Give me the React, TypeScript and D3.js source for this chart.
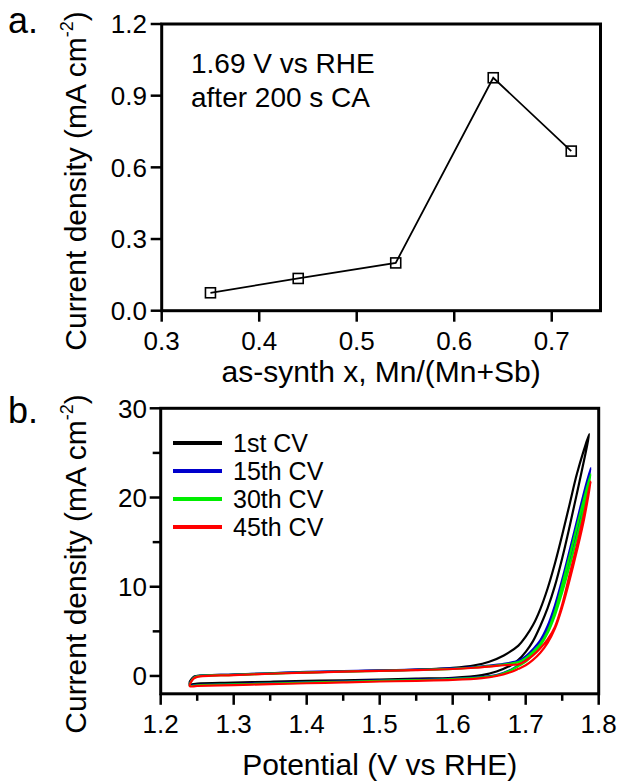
import React from "react";
import * as d3 from "d3";

// ---------- Panel a data ----------
const compX = [0.35, 0.44, 0.54, 0.64, 0.72];
const currentA = [0.075, 0.135, 0.2, 0.975, 0.668];
const aXTicks = [0.3, 0.4, 0.5, 0.6, 0.7];
const aYTicks = [0.0, 0.3, 0.6, 0.9, 1.2];
const annotation = ["1.69 V vs RHE", "after 200 s CA"];

// ---------- Panel b data (CV loops: [potential V, current mA cm-2]) ----------
const cv1Forward = [[1.24,-0.6],[1.245,-0.1],[1.25,0.0],[1.3,0.15],[1.35,0.28],[1.4,0.4],[1.45,0.5],[1.5,0.6],[1.55,0.72],[1.6,0.92],[1.63,1.2],[1.65,1.6],[1.67,2.3],[1.69,3.4],[1.70,4.4],[1.71,5.7],[1.72,7.5],[1.73,9.8],[1.74,12.6],[1.75,15.8],[1.76,19.2],[1.77,22.6],[1.78,25.4],[1.787,27.1]];
const cv1Reverse = [[1.787,27.1],[1.78,24.2],[1.77,20.4],[1.76,16.7],[1.75,13.2],[1.74,10.1],[1.73,7.6],[1.72,5.6],[1.71,3.9],[1.70,2.7],[1.69,1.8],[1.68,1.2],[1.66,0.5],[1.64,0.1],[1.6,-0.2],[1.55,-0.3],[1.5,-0.4],[1.45,-0.48],[1.4,-0.55],[1.35,-0.65],[1.3,-0.75],[1.25,-0.85],[1.24,-0.9],[1.24,-0.6]];

const cv15Forward = [[1.24,-0.8],[1.245,-0.2],[1.25,0.0],[1.3,0.15],[1.35,0.3],[1.4,0.45],[1.45,0.55],[1.5,0.62],[1.55,0.7],[1.6,0.85],[1.63,1.0],[1.65,1.15],[1.67,1.35],[1.68,1.5],[1.69,1.7],[1.70,2.2],[1.71,3.0],[1.72,4.0],[1.73,5.6],[1.74,7.9],[1.75,10.8],[1.76,14.0],[1.77,17.3],[1.78,20.6],[1.789,23.3]];
const cv15Reverse = [[1.789,23.3],[1.78,19.6],[1.77,16.2],[1.76,13.0],[1.75,10.0],[1.74,7.3],[1.73,5.1],[1.72,3.6],[1.71,2.6],[1.70,1.8],[1.69,1.2],[1.68,0.7],[1.66,0.1],[1.64,-0.1],[1.6,-0.3],[1.55,-0.42],[1.5,-0.5],[1.45,-0.6],[1.4,-0.7],[1.35,-0.8],[1.3,-0.9],[1.25,-1.0],[1.24,-1.05],[1.24,-0.8]];

const cv30Forward = [[1.24,-0.85],[1.245,-0.25],[1.25,-0.05],[1.3,0.12],[1.35,0.27],[1.4,0.4],[1.45,0.5],[1.5,0.58],[1.55,0.67],[1.6,0.8],[1.63,0.95],[1.65,1.1],[1.67,1.28],[1.68,1.4],[1.69,1.55],[1.70,2.0],[1.71,2.7],[1.72,3.6],[1.73,5.0],[1.74,7.2],[1.75,10.2],[1.76,13.4],[1.77,16.7],[1.78,19.9],[1.789,22.6]];
const cv30Reverse = [[1.789,22.6],[1.78,18.9],[1.77,15.5],[1.76,12.3],[1.75,9.4],[1.74,6.8],[1.73,4.8],[1.72,3.4],[1.71,2.4],[1.70,1.6],[1.69,1.1],[1.68,0.65],[1.66,0.05],[1.64,-0.15],[1.6,-0.35],[1.55,-0.47],[1.5,-0.55],[1.45,-0.65],[1.4,-0.75],[1.35,-0.85],[1.3,-0.95],[1.25,-1.05],[1.24,-1.1],[1.24,-0.85]];

const cv45Forward = [[1.24,-0.9],[1.245,-0.3],[1.25,-0.1],[1.3,0.1],[1.35,0.25],[1.4,0.38],[1.45,0.48],[1.5,0.56],[1.55,0.65],[1.6,0.78],[1.63,0.92],[1.65,1.05],[1.67,1.2],[1.68,1.25],[1.69,1.3],[1.70,1.7],[1.71,2.3],[1.72,3.1],[1.73,4.1],[1.74,5.5],[1.75,8.0],[1.76,11.3],[1.77,14.6],[1.78,18.2],[1.789,21.8]];
const cv45Reverse = [[1.789,21.8],[1.78,17.6],[1.77,14.0],[1.76,10.7],[1.75,7.7],[1.74,5.3],[1.73,3.7],[1.72,2.6],[1.71,1.8],[1.70,1.2],[1.69,0.8],[1.68,0.45],[1.66,0.0],[1.64,-0.25],[1.6,-0.45],[1.55,-0.55],[1.5,-0.62],[1.45,-0.72],[1.4,-0.82],[1.35,-0.92],[1.3,-1.02],[1.25,-1.12],[1.24,-1.15],[1.24,-0.9]];

const cvLabels = ["1st CV", "15th CV", "30th CV", "45th CV"];
const cvColors = ["#000000", "#0000cc", "#00ee00", "#ff0000"];
const bXTicks = [1.2, 1.3, 1.4, 1.5, 1.6, 1.7, 1.8];
const bXMinor = [1.25, 1.35, 1.45, 1.55, 1.65, 1.75];
const bYTicks = [0, 10, 20, 30];
const bYMinor = [5, 15, 25];

const FONT = "'Liberation Sans', Arial, Helvetica, sans-serif";

export default function App() {
  // Panel a scales
  const ax = d3.scaleLinear().domain([0.3, 0.75]).range([161.7, 600.5]);
  const ay = d3.scaleLinear().domain([0, 1.2]).range([310.7, 24]);
  // Panel b scales
  const bx = d3.scaleLinear().domain([1.2, 1.8]).range([160.7, 598.7]);
  const by = d3.scaleLinear().domain([-2, 30]).range([693.8, 408.3]);

  const aPts = compX.map((x, i) => [x, currentA[i]]);
  const aLine = d3.line<number[]>().x(d => ax(d[0])).y(d => ay(d[1]));
  const bLine = d3.line<number[]>().x(d => bx(d[0])).y(d => by(d[1])).curve(d3.curveCatmullRom.alpha(0.5));

  const cvSeries = [
    cv1Forward.concat(cv1Reverse.slice(1)),
    cv15Forward.concat(cv15Reverse.slice(1)),
    cv30Forward.concat(cv30Reverse.slice(1)),
    cv45Forward.concat(cv45Reverse.slice(1)),
  ];

  const tickW = 2.5;
  const titleSize = 30;
  const tickSize = 26;

  const [ax0, ax1] = ax.range();
  const [ay0, ay1] = ay.range();
  const [bx0, bx1] = bx.range();
  const [by0, by1] = by.range();

  return (
    <svg width={622} height={781} style={{ position: "absolute", left: 0, top: 0, background: "#fff" }} fontFamily={FONT}>
      <rect x={0} y={0} width={622} height={781} fill="#fff" />
      {/* ---------- Panel a ---------- */}
      <text x={8} y={33} fontSize={36} fill="#000">a.</text>
      <path d={aLine(aPts) || ""} fill="none" stroke="#000" strokeWidth={1.8} />
      {aPts.map((d, i) => (
        <rect key={i} x={ax(d[0]) - 5} y={ay(d[1]) - 5} width={10} height={10} fill="none" stroke="#000" strokeWidth={1.6} />
      ))}
      <rect x={ax0} y={ay1} width={ax1 - ax0} height={ay0 - ay1} fill="none" stroke="#000" strokeWidth={3} />
      {aXTicks.map(t => (
        <g key={t}>
          <line x1={ax(t)} x2={ax(t)} y1={ay0} y2={ay0 + 11} stroke="#000" strokeWidth={tickW} />
          <text x={ax(t)} y={350} fontSize={tickSize} textAnchor="middle">{t.toFixed(1)}</text>
        </g>
      ))}
      {aYTicks.map(t => (
        <g key={t}>
          <line x1={ax0 - 11} x2={ax0} y1={ay(t)} y2={ay(t)} stroke="#000" strokeWidth={tickW} />
          <text x={147} y={ay(t)} dy="0.36em" fontSize={tickSize} textAnchor="end">{t.toFixed(1)}</text>
        </g>
      ))}
      <text x={191} y={73} fontSize={28}>{annotation[0]}</text>
      <text x={191} y={107} fontSize={28}>{annotation[1]}</text>
      <text x={(ax0 + ax1) / 2} y={382} fontSize={titleSize} textAnchor="middle">as-synth x, Mn/(Mn+Sb)</text>
      <text transform={`translate(86,${181}) rotate(-90)`} fontSize={titleSize} textAnchor="middle">
        Current density (mA cm<tspan fontSize={18} dy={-13}>-2</tspan><tspan dy={13}>)</tspan>
      </text>

      {/* ---------- Panel b ---------- */}
      <text x={8} y={423} fontSize={36} fill="#000">b.</text>
      {cvSeries.map((s, i) => (
        <path key={i} d={bLine(s) || ""} fill="none" stroke={cvColors[i]} strokeWidth={2.2} />
      ))}
      <rect x={bx0} y={by1} width={bx1 - bx0} height={by0 - by1} fill="none" stroke="#000" strokeWidth={3} />
      {bXTicks.map(t => (
        <g key={t}>
          <line x1={bx(t)} x2={bx(t)} y1={by0} y2={by0 + 11} stroke="#000" strokeWidth={tickW} />
          <text x={bx(t)} y={733} fontSize={tickSize} textAnchor="middle">{t.toFixed(1)}</text>
        </g>
      ))}
      {bXMinor.map(t => (
        <line key={t} x1={bx(t)} x2={bx(t)} y1={by0} y2={by0 + 7} stroke="#000" strokeWidth={tickW} />
      ))}
      {bYTicks.map(t => (
        <g key={t}>
          <line x1={bx0 - 11} x2={bx0} y1={by(t)} y2={by(t)} stroke="#000" strokeWidth={tickW} />
          <text x={147} y={by(t)} dy="0.36em" fontSize={tickSize} textAnchor="end">{t}</text>
        </g>
      ))}
      {bYMinor.map(t => (
        <line key={t} x1={bx0 - 8} x2={bx0} y1={by(t)} y2={by(t)} stroke="#000" strokeWidth={tickW} />
      ))}
      {cvLabels.map((l, i) => (
        <g key={l}>
          <line x1={173} x2={222} y1={443 + i * 28} y2={443 + i * 28} stroke={cvColors[i]} strokeWidth={4} />
          <text x={233} y={443 + i * 28} dy="0.36em" fontSize={25}>{l}</text>
        </g>
      ))}
      <text x={(bx0 + bx1) / 2} y={775} fontSize={titleSize} textAnchor="middle">Potential (V vs RHE)</text>
      <text transform={`translate(86,${564}) rotate(-90)`} fontSize={titleSize} textAnchor="middle">
        Current density (mA cm<tspan fontSize={18} dy={-13}>-2</tspan><tspan dy={13}>)</tspan>
      </text>
    </svg>
  );
}
